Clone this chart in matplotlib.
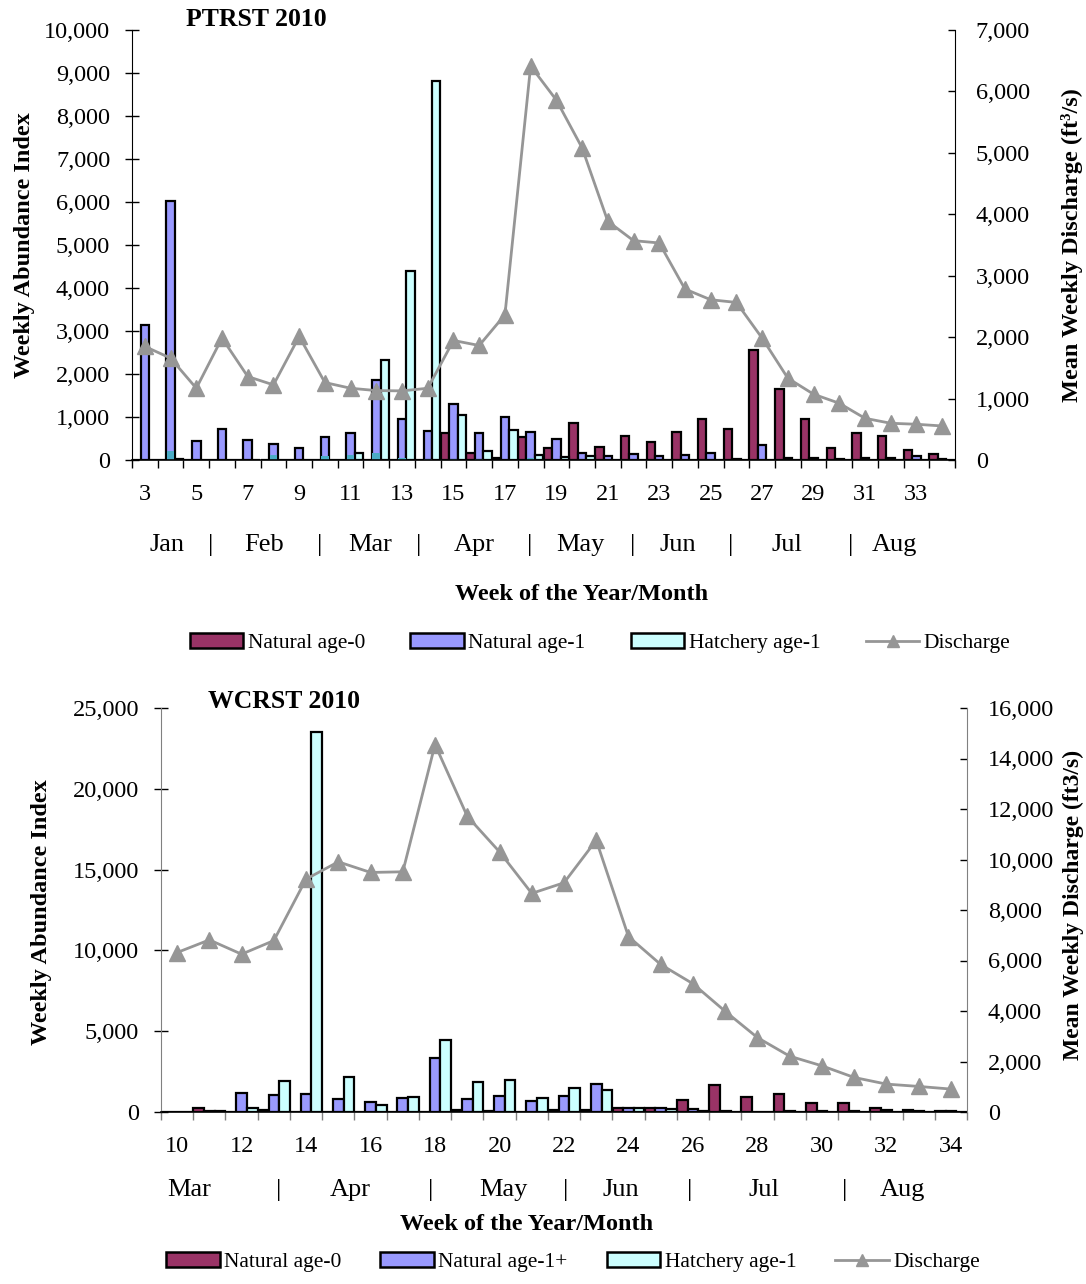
#!/usr/bin/env python3
"""Weekly abundance index and mean weekly discharge, PTRST and WCRST 2010."""

import numpy as np
import matplotlib
matplotlib.use("Agg")
import matplotlib.pyplot as plt
from matplotlib.patches import Patch
from matplotlib.lines import Line2D
from matplotlib.ticker import FuncFormatter, FixedLocator

plt.rcParams['font.family'] = ['Liberation Serif', 'DejaVu Serif']

# ---- PTRST 2010 (weeks 3-34) ----
weeks_t = list(range(3, 35))
age0_t = [0, 0, 0, 0, 0, 0, 0, 0, 0, 0, 0, 0,
          637, 155, 40, 543, 287, 870, 295, 559, 427, 660, 947, 714,
          2562, 1646, 947, 280, 621, 559, 233, 140]
age1_t = [3144, 6017, 443, 714, 466, 373, 272, 543, 637, 1863, 947, 683,
          1297, 637, 1009, 644, 481, 171, 93, 140, 100, 109, 155, 30,
          349, 40, 45, 30, 45, 40, 93, 30]
hatch_t = [0, 20, 0, 0, 0, 0, 0, 0, 155, 2329, 4402, 8812,
           1040, 210, 699, 116, 62, 93, 0, 0, 0, 0, 0, 0,
           0, 0, 0, 0, 0, 0, 0, 0]
other_t = [0, 217, 0, 0, 0, 116, 0, 100, 116, 155, 54, 30,
           30, 30, 0, 40, 0, 0, 0, 0, 0, 0, 0, 0,
           0, 0, 0, 0, 0, 0, 0, 0]
flow_t = [1848, 1658, 1168, 1984, 1359, 1223, 2011, 1261, 1168, 1130, 1125, 1168,
          1946, 1864, 2364, 6413, 5859, 5082, 3886, 3571, 3533, 2783, 2609, 2565,
          1984, 1332, 1071, 924, 679, 598, 582, 554]
months_t = ["Jan", "Feb", "Mar", "Apr", "May", "Jun", "Jul", "Aug"]
month_pos_t = [3.85, 7.65, 11.75, 15.82, 19.92, 23.72, 27.97, 32.15]
sep_pos_t = [5.56, 9.78, 13.65, 17.95, 21.97, 25.77, 30.45]

# ---- WCRST 2010 (weeks 10-34) ----
weeks_b = list(range(10, 35))
age0_b = [0, 250, 0, 100, 0, 0, 0, 0, 0, 100, 60, 30, 140, 100,
          226, 247, 720, 1690, 926, 1090, 555, 555, 267, 144, 60]
age1_b = [0, 40, 1170, 1070, 1130, 820, 620, 860, 3330, 820, 970, 660, 970, 1750,
          247, 247, 206, 50, 30, 50, 40, 40, 140, 50, 40]
hatch_b = [0, 40, 250, 1930, 23500, 2150, 450, 926, 4440, 1870, 2010, 864, 1500, 1380,
           247, 206, 40, 0, 30, 0, 0, 0, 0, 0, 30]
flow_b = [6316, 6816, 6250, 6789, 9224, 9908, 9487, 9513, 14553, 11711, 10303, 8658,
          9079, 10763, 6947, 5842, 5079, 3987, 2947, 2211, 1829, 1368, 1105, 1013, 908]
months_b = ["Mar", "Apr", "May", "Jun", "Jul", "Aug"]
month_pos_b = [10.37, 15.37, 20.12, 23.75, 28.2, 32.5]
sep_pos_b = [13.16, 17.85, 22.05, 25.9, 30.71]

C_AGE0 = "#993366"
C_AGE1 = "#9999FF"
C_HATCH = "#CCFFFF"
C_OTHER = "#4BACC6"
C_FLOW = "#969696"

W, H = 1086, 1284
fig = plt.figure(figsize=(W / 100, H / 100), dpi=100)

comma = FuncFormatter(lambda v, p: f"{int(v):,}")


def px_axes(l, t, r, b):
    return fig.add_axes([l / W, 1 - b / H, (r - l) / W, (b - t) / H])


def panel(ax, weeks, a0, a1, ha, flow, ymax, ystep, fmax, fstep, spine_col,
          title, title_xy, months, mpos, seps, month_y, lab_every_from):
    x = np.array(weeks, dtype=float)
    bw = 0.33
    kw = dict(width=bw, edgecolor="black", linewidth=1.6, zorder=2)
    ax.bar(x - bw, a0, color=C_AGE0, **kw)
    ax.bar(x, a1, color=C_AGE1, **kw)
    ax.bar(x + bw, ha, color=C_HATCH, **kw)
    ax.set_xlim(weeks[0] - 0.5, weeks[-1] + 0.5)
    ax.set_ylim(0, ymax)
    ax.yaxis.set_major_locator(FixedLocator(np.arange(0, ymax + 1, ystep)))
    ax.yaxis.set_major_formatter(comma)
    ax.tick_params(axis='y', direction='inout', length=10.5, width=1,
                   labelsize=17.5, pad=10.5, colors='black')
    labs = [w for w in weeks if (w - lab_every_from) % 2 == 0]
    ax.xaxis.set_major_locator(FixedLocator(labs))
    ax.set_xticklabels([str(w) for w in labs])
    ax.xaxis.set_minor_locator(FixedLocator(np.arange(weeks[0] - 0.5, weeks[-1] + 0.6, 1)))
    ax.tick_params(axis='x', which='major', length=0, labelsize=17.5, pad=17)
    ax.tick_params(axis='x', which='minor', direction='out', length=6, width=1,
                   color=spine_col)
    for s in ["top", "right"]:
        ax.spines[s].set_visible(False)
    ax.spines["left"].set_color(spine_col)
    ax.spines["bottom"].set_color("black")
    ax.spines["bottom"].set_linewidth(1.2)

    ax2 = ax.twinx()
    ax2.plot(x, flow, color=C_FLOW, lw=2, marker='^', ms=11, mec=C_FLOW,
             mfc=C_FLOW, zorder=3)
    ax2.set_ylim(0, fmax)
    ax2.yaxis.set_major_locator(FixedLocator(np.arange(0, fmax + 1, fstep)))
    ax2.yaxis.set_major_formatter(comma)
    ax2.tick_params(axis='y', direction='in', length=5, width=1, labelsize=17.5,
                    pad=15)
    for s in ["top", "left", "bottom"]:
        ax2.spines[s].set_visible(False)
    ax2.spines["right"].set_color(spine_col)

    ax.text(title_xy[0], title_xy[1], title, transform=fig.transFigure,
            fontsize=18.5, fontweight='bold', ha='center', va='center')
    for m, p in zip(months, mpos):
        ax.text(p, month_y, m, transform=ax.get_xaxis_transform(),
                fontsize=19, ha='center', va='center')
    for p in seps:
        ax.text(p, month_y, "|", transform=ax.get_xaxis_transform(),
                fontsize=19, ha='center', va='center')
    return ax2


# top panel
ax_t = px_axes(132, 30, 955, 460)
ax_t2 = panel(ax_t, weeks_t, age0_t, age1_t, hatch_t, flow_t, 10000, 1000,
              7000, 1000, "black", "PTRST 2010", (256 / W, 1 - 20 / H),
              months_t, month_pos_t, sep_pos_t, -0.198, 3)
ax_t.bar(np.array(weeks_t, dtype=float), other_t, width=0.3, color=C_OTHER,
         edgecolor='none', zorder=2.5)

# bottom panel
ax_b = px_axes(161, 708, 967, 1112)
ax_b2 = panel(ax_b, weeks_b, age0_b, age1_b, hatch_b, flow_b, 25000, 5000,
              16000, 2000, "#808080", "WCRST 2010", (284 / W, 1 - 702 / H),
              months_b, month_pos_b, sep_pos_b, -0.193, 10)

# axis labels
fig.text(25 / W, 1 - 245 / H, "Weekly Abundance Index", rotation=90,
         fontsize=17.5, fontweight='bold', ha='center', va='center')
fig.text(1072 / W, 1 - 245 / H, "Mean Weekly Discharge (ft³/s)", rotation=90,
         fontsize=17.5, fontweight='bold', ha='center', va='center')
fig.text(42 / W, 1 - 912 / H, "Weekly Abundance Index", rotation=90,
         fontsize=17.5, fontweight='bold', ha='center', va='center')
fig.text(1073 / W, 1 - 905 / H, "Mean Weekly Discharge (ft3/s)", rotation=90,
         fontsize=17, fontweight='bold', ha='center', va='center')
fig.text(582 / W, 1 - 595 / H, "Week of the Year/Month", fontsize=17.5,
         fontweight='bold', ha='center', va='center')
fig.text(527 / W, 1 - 1225 / H, "Week of the Year/Month", fontsize=17.5,
         fontweight='bold', ha='center', va='center')


def legend_handles():
    return [Patch(facecolor=C_AGE0, edgecolor='black', linewidth=1.8),
            Patch(facecolor=C_AGE1, edgecolor='black', linewidth=1.8),
            Patch(facecolor=C_HATCH, edgecolor='black', linewidth=1.8),
            Line2D([], [], color=C_FLOW, lw=2, marker='^', ms=8)]


fig.legend(legend_handles(),
           ["Natural age-0", "Natural age-1", "Hatchery age-1", "Discharge"],
           ncol=4, loc='center', bbox_to_anchor=(600 / W, 1 - 643 / H),
           frameon=False, fontsize=15.5, handlelength=2.5, handletextpad=0.2,
           columnspacing=2.1)
fig.legend(legend_handles(),
           ["Natural age-0", "Natural age-1+", "Hatchery age-1", "Discharge"],
           ncol=4, loc='center', bbox_to_anchor=(573 / W, 1 - 1262 / H),
           frameon=False, fontsize=15.5, handlelength=2.5, handletextpad=0.2,
           columnspacing=1.8)

fig.savefig("out.png", dpi=100)
plt.close(fig)
